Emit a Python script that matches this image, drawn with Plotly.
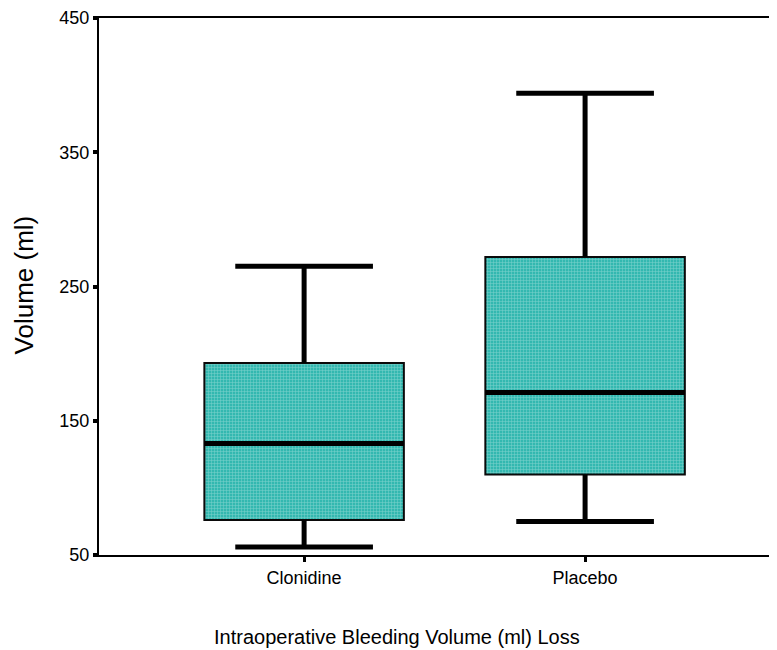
import plotly.graph_objects as go

categories = ["Clonidine", "Placebo"]
lower_whisker = [56, 75]
q1 = [76, 110]
median = [133, 171]
q3 = [193, 272]
upper_whisker = [265, 394]

y_ticks = [50, 150, 250, 350, 450]

box_width = 0.71
cap_width = 0.49

fig = go.Figure()

xs = list(range(len(categories)))

fig.add_trace(go.Bar(
    x=xs, y=[b - a for a, b in zip(q1, q3)], base=q1, width=box_width,
    marker=dict(color="#33B8B0", line=dict(color="#0a0a0a", width=2),
                pattern=dict(shape="+", size=3, solidity=0.33,
                             fgcolor="#BDE9E5", bgcolor="#33B8B0")),
    hoverinfo="skip", showlegend=False))

line_style = dict(color="black", width=5)
for i in xs:
    fig.add_trace(go.Scatter(x=[i, i], y=[q3[i], upper_whisker[i]], mode="lines",
                             line=line_style, showlegend=False, hoverinfo="skip"))
    fig.add_trace(go.Scatter(x=[i, i], y=[q1[i], lower_whisker[i]], mode="lines",
                             line=line_style, showlegend=False, hoverinfo="skip"))
    fig.add_trace(go.Scatter(x=[i - cap_width / 2, i + cap_width / 2],
                             y=[upper_whisker[i]] * 2, mode="lines",
                             line=line_style, showlegend=False, hoverinfo="skip"))
    fig.add_trace(go.Scatter(x=[i - cap_width / 2, i + cap_width / 2],
                             y=[lower_whisker[i]] * 2, mode="lines",
                             line=line_style, showlegend=False, hoverinfo="skip"))
    fig.add_trace(go.Scatter(x=[i - box_width / 2, i + box_width / 2],
                             y=[median[i]] * 2, mode="lines",
                             line=line_style, showlegend=False, hoverinfo="skip"))

fig.update_layout(
    width=769, height=642,
    margin=dict(l=91, r=0, t=10, b=95),
    plot_bgcolor="white", paper_bgcolor="white",
    font=dict(family="Liberation Sans, Arial, sans-serif", color="black"),
    xaxis=dict(range=[-0.73, 1.683], tickvals=xs, ticktext=categories,
               showline=True, linecolor="black", linewidth=2, mirror=True,
               ticks="outside", ticklen=5, tickwidth=3, tickcolor="black",
               showgrid=False, zeroline=False, tickfont=dict(size=18),
               automargin=False, ticklabeloverflow="allow"),
    yaxis=dict(range=[50, 450], tickvals=y_ticks,
               showline=True, linecolor="black", linewidth=2,
               ticks="outside", ticklen=4, tickwidth=4, tickcolor="black",
               showgrid=False, zeroline=False, tickfont=dict(size=18),
               automargin=False, ticklabeloverflow="allow"),
    annotations=[
        dict(text="Intraoperative Bleeding Volume (ml) Loss", xref="paper", yref="paper",
             x=0.4388, y=-0.152, xanchor="center", yanchor="middle",
             showarrow=False, font=dict(size=20)),
        dict(text="Volume (ml)", xref="paper", yref="paper", textangle=-90,
             x=-0.1106, y=0.502, xanchor="center", yanchor="middle",
             showarrow=False, font=dict(size=26)),
    ],
)

fig.write_html("out.html")
